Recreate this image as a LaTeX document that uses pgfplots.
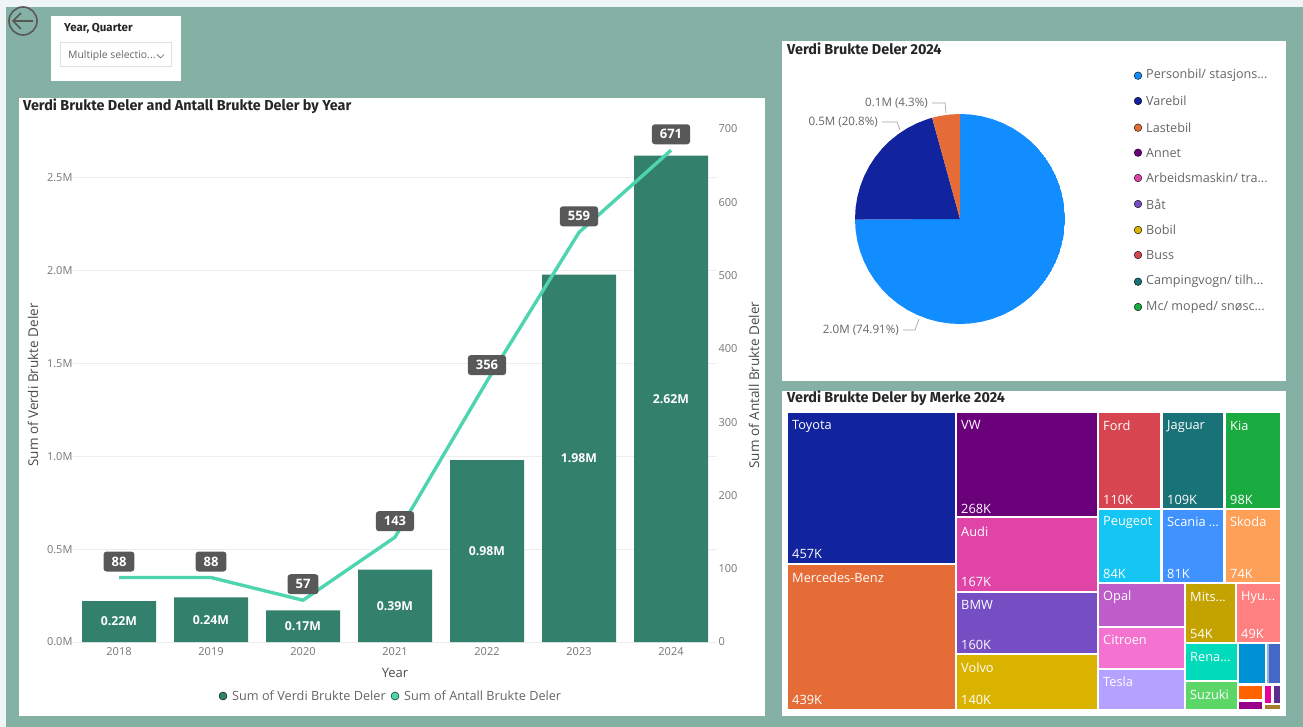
\documentclass[border=0pt]{standalone}
\usepackage{pgfplots}
\pgfplotsset{compat=1.18}
\usepackage{pgfplotstable}
\usepgfplotslibrary{polar}
\usepackage{fontspec}
\setmainfont{Open Sans}
\newfontfamily\titlefont{Fira Sans}
\definecolor{bgteal}{HTML}{85B1A5}
\definecolor{outer}{HTML}{EFF5F4}
\definecolor{bar}{HTML}{33806C}
\definecolor{linec}{HTML}{4FD4B0}
\definecolor{txt}{HTML}{666666}
\definecolor{tickc}{HTML}{777777}
\definecolor{lab}{HTML}{585858}
\definecolor{c1}{HTML}{118DFF}
\definecolor{c2}{HTML}{12239E}
\definecolor{c3}{HTML}{E66C37}
\definecolor{c4}{HTML}{6B007B}
\definecolor{c5}{HTML}{E044A7}
\definecolor{c6}{HTML}{744EC2}
\definecolor{c7}{HTML}{D9B300}
\definecolor{c8}{HTML}{D64550}
\definecolor{c9}{HTML}{197278}
\definecolor{c10}{HTML}{1AAB40}
\definecolor{c11}{HTML}{15C6F4}
\definecolor{c12}{HTML}{4092FF}
\definecolor{c13}{HTML}{FFA058}
\definecolor{c14}{HTML}{BE5DC9}
\definecolor{c15}{HTML}{F472D0}
\definecolor{c16}{HTML}{B5A1FF}
\definecolor{c17}{HTML}{C4A200}
\definecolor{c18}{HTML}{FF8080}
\definecolor{c19}{HTML}{00DBBC}
\definecolor{c20}{HTML}{5BD667}
\definecolor{c21}{HTML}{0091D5}
\definecolor{c22}{HTML}{4668C5}
\definecolor{c23}{HTML}{FF6300}
\definecolor{c24}{HTML}{E6009E}
\definecolor{c25}{HTML}{99008A}
\definecolor{c26}{HTML}{5C2D91}
\definecolor{c27}{HTML}{A67C2D}
\definecolor{c28}{HTML}{8FB4E0}
\pgfplotstableread{
x v half lab
0 0.22 0.11 0.22M
1 0.24 0.12 0.24M
2 0.17 0.085 0.17M
3 0.39 0.195 0.39M
4 0.98 0.49 0.98M
5 1.98 0.99 1.98M
6 2.62 1.31 2.62M
}\barsdata
\pgfplotstableread{
x n lab
0 88 88
1 88 88
2 57 57
3 143 143
4 356 356
5 559 559
6 671 671
}\linedata
\newcommand\tile[5]{\addplot[fill=#5,draw=none] coordinates {(#1,-#2)(#3,-#2)(#3,-#4)(#1,-#4)} --cycle;}
\newcommand\tl[3]{\node[anchor=west,text=white,font=\fontsize{12.8}{13}\selectfont,inner sep=0pt] at (axis cs:#1,-#2) {#3};}
\newcommand\lgd[3]{\addplot[only marks,mark=*,mark size=3.8pt,mark options={fill=#3,draw=none}] coordinates {(1138,-#1)};
\node[anchor=west,text=txt,font=\fontsize{12.6}{13}\selectfont,inner sep=0pt] at (axis cs:1146,-#1) {#2};}
\begin{document}
\begin{tikzpicture}[x=1pt,y=1pt]
% page and panels
\fill[outer] (0,0) rectangle (1303,-727);
\fill[bgteal] (6,-7) rectangle (1303,-727);
\fill[white] (51,-16) rectangle (181,-81);
\fill[white] (19,-98) rectangle (765,-716);
\fill[white] (782,-41) rectangle (1286,-381);
\fill[white] (782,-391) rectangle (1286,-716);
% back arrow
\draw[lab,line width=1.6pt] (23,-21) circle (14);
\draw[lab,line width=1.6pt] (33,-21) -- (13,-21) (21,-13) -- (13,-21) -- (21,-29);
% slicer
\node[anchor=west,inner sep=0pt,font=\titlefont\fontsize{11.5}{12}\selectfont\bfseries,text=black!85] at (64,-28) {Year, Quarter};
\draw[black!12,line width=.6pt] (60,-42) rectangle (171,-66);
\node[anchor=west,inner sep=0pt,font=\fontsize{10.4}{11}\selectfont,text=txt] at (68,-56) {Multiple selectio...};
\draw[txt,line width=.7pt] (157,-54.5) -- (160.5,-58) -- (164,-54.5);
% titles
\node[anchor=west,inner sep=0pt,font=\titlefont\fontsize{14.4}{15}\selectfont\bfseries,text=black!85] at (23,-106) {Verdi Brukte Deler and Antall Brukte Deler by Year};
\node[anchor=west,inner sep=0pt,font=\titlefont\fontsize{14.4}{15}\selectfont\bfseries,text=black!85] at (787,-49) {Verdi Brukte Deler 2024};
\node[anchor=west,inner sep=0pt,font=\titlefont\fontsize{14.4}{15}\selectfont\bfseries,text=black!85] at (787,-398) {Verdi Brukte Deler by Merke 2024};

% combo: bars on left axis
\begin{axis}[
  at={(73pt,-642pt)},anchor=south west,scale only axis,width=644pt,height=513pt,
  xmin=-0.5,xmax=6.5,ymin=0,ymax=2.764,
  axis x line*=bottom,axis y line*=left,
  axis line style={draw=none},
  major tick length=0pt,
  xtick={0,...,6},xticklabels={2018,2019,2020,2021,2022,2023,2024},
  ytick={0,0.5,1,1.5,2,2.5},yticklabels={0.0M,0.5M,1.0M,1.5M,2.0M,2.5M},
  ymajorgrids,grid style={black!7,line width=1pt},
  tick label style={font=\fontsize{11}{12}\selectfont,text=tickc},
  /pgf/number format/assume math mode=true,
  xticklabel style={yshift=-2pt},
  yticklabel style={xshift=3pt},
  clip=false,
]
\addplot[ybar,bar width=74pt,fill=bar,draw=none] table[x=x,y=v] {\barsdata};
\addplot[draw=none,mark=none,point meta=explicit symbolic,
  nodes near coords,
  every node near coord/.append style={anchor=center,text=white,inner sep=0pt,
    font=\fontsize{12.3}{13}\selectfont\bfseries}]
  table[x=x,y=half,meta=lab] {\barsdata};
\end{axis}
% line on right axis
\begin{axis}[
  at={(73pt,-642pt)},anchor=south west,scale only axis,width=644pt,height=513pt,
  xmin=-0.5,xmax=6.5,ymin=0,ymax=700,
  hide x axis,axis y line*=right,
  axis line style={draw=none},
  major tick length=0pt,
  ytick={0,100,...,700},
  tick label style={font=\fontsize{11}{12}\selectfont,text=tickc},
  /pgf/number format/assume math mode=true,
  yticklabel style={xshift=-2pt},
  clip=false,
]
\addplot[linec,line width=3.4pt,line join=round,mark=none,point meta=explicit symbolic,
  nodes near coords,
  every node near coord/.append style={anchor=center,yshift=16pt,fill=lab,text=white,
    rounded corners=3pt,inner xsep=8pt,inner ysep=0pt,minimum height=20pt,
    font=\fontsize{13}{14}\selectfont\bfseries}]
  table[x=x,y=n,meta=lab] {\linedata};
\end{axis}
\node[rotate=90,text=black!70,inner sep=0pt,font=\fontsize{13.5}{14}\selectfont] at (33,-385) {Sum of Verdi Brukte Deler};
\node[rotate=90,text=black!70,inner sep=0pt,font=\fontsize{13.5}{14}\selectfont] at (754,-385) {Sum of Antall Brukte Deler};
\node[text=black!70,inner sep=0pt,font=\fontsize{13}{14}\selectfont] at (395,-673) {Year};

% pie
\begin{polaraxis}[at={(960pt,-219pt)},anchor=center,scale only axis,width=210pt,height=210pt,
  ymin=0,ymax=1,xmin=0,xmax=360,hide axis]
\addplot[fill=c1,draw=none] coordinates {(0,0)(90,1)(84,1)(78,1)(72,1)(66,1)(60,1)(54,1)(48,1)(42,1)(36,1)(30,1)(24,1)(18,1)(12,1)(6,1)(0,1)(-6,1)(-12,1)(-18,1)(-24,1)(-30,1)(-36,1)(-42,1)(-48,1)(-54,1)(-60,1)(-66,1)(-72,1)(-78,1)(-84,1)(-90,1)(-96,1)(-102,1)(-108,1)(-114,1)(-120,1)(-126,1)(-132,1)(-138,1)(-144,1)(-150,1)(-156,1)(-162,1)(-168,1)(-174,1)(-179.7,1)} --cycle;
\addplot[fill=c2,draw=none] coordinates {(0,0)(180.3,1)(174,1)(168,1)(162,1)(156,1)(150,1)(144,1)(138,1)(132,1)(126,1)(120,1)(114,1)(108,1)(105.4,1)} --cycle;
\addplot[fill=c3,draw=none] coordinates {(0,0)(105.4,1)(102,1)(96,1)(90,1)} --cycle;
\end{polaraxis}

% treemap, pie leaders and legend, chart legend on a pixel-scaled axis
\begin{axis}[at={(0pt,-727pt)},anchor=south west,scale only axis,width=1303pt,height=727pt,
  xmin=0,xmax=1303,ymin=-727,ymax=0,hide axis,clip=false]
\tile{788}{413}{955.3}{563.3}{c2}
\tile{788}{565}{955.3}{709}{c3}
\tile{957}{413}{1097.3}{515.7}{c4}
\tile{957}{517.7}{1097.3}{591}{c5}
\tile{957}{592.7}{1097.3}{653.3}{c6}
\tile{957}{655.3}{1097.3}{709}{c7}
\tile{1099.3}{413}{1160.3}{508.3}{c8}
\tile{1162.5}{413}{1223.3}{508.3}{c9}
\tile{1225.5}{413}{1280}{508.3}{c10}
\tile{1099.3}{510.3}{1160.3}{581.7}{c11}
\tile{1162.5}{510.3}{1223.3}{581.7}{c12}
\tile{1225.5}{510.3}{1280}{581.7}{c13}
\tile{1099.3}{584.3}{1184}{625.7}{c14}
\tile{1099.3}{627.7}{1184}{668.3}{c15}
\tile{1099.3}{670.3}{1184}{709}{c16}
\tile{1185.7}{584.3}{1235}{642.3}{c17}
\tile{1237.3}{584.3}{1280}{642.3}{c18}
\tile{1185.7}{644.3}{1237.3}{679.7}{c19}
\tile{1185.7}{682.3}{1237.3}{709}{c20}
\tile{1239.3}{644.3}{1265.3}{683.3}{c21}
\tile{1266.5}{644.3}{1268.5}{683.3}{c28}
\tile{1269.3}{644.3}{1280}{683.3}{c22}
\tile{1239.3}{686}{1262}{699.3}{c23}
\tile{1239.3}{702.3}{1262}{709}{c25}
\tile{1264.7}{686}{1271.3}{703.3}{c24}
\tile{1274}{686}{1280}{703.3}{c26}
\tile{1264.7}{705}{1280}{709}{c27}
\tl{792}{426}{Toyota}\tl{792}{554}{457K}
\tl{792}{578}{Mercedes-Benz}\tl{792}{700}{439K}
\tl{961}{425}{VW}\tl{961}{509}{268K}
\tl{961}{532}{Audi}\tl{961}{582}{167K}
\tl{961}{605}{BMW}\tl{961}{645}{160K}
\tl{961}{668}{Volvo}\tl{961}{700}{140K}
\tl{1103}{426}{Ford}\tl{1103}{500}{110K}
\tl{1167}{426}{Jaguar}\tl{1167}{500}{109K}
\tl{1230}{426}{Kia}\tl{1230}{500}{98K}
\tl{1103}{522}{Peugeot}\tl{1103}{574}{84K}
\tl{1167}{522}{Scania \dots}\tl{1167}{574}{81K}
\tl{1230}{522}{Skoda}\tl{1230}{574}{74K}
\tl{1103}{597}{Opal}
\tl{1103}{640}{Citroen}
\tl{1103}{682}{Tesla}
\tl{1190}{597}{Mits...}\tl{1190}{634}{54K}
\tl{1241}{597}{Hyu...}\tl{1241}{634}{49K}
\tl{1190}{657}{Rena...}
\tl{1190}{695}{Suzuki}
% pie leaders
\addplot[black!35,line width=.7pt] coordinates {(932,-103)(945,-103)(946,-113)};
\addplot[black!35,line width=.7pt] coordinates {(882,-122)(897,-122)(900,-130)};
\addplot[black!35,line width=.7pt] coordinates {(903,-330)(915,-330)(919,-319)};
\node[anchor=east,text=txt,inner sep=0pt,font=\fontsize{11.6}{12}\selectfont] at (axis cs:928,-103) {0.1M (4.3\%)};
\node[anchor=east,text=txt,inner sep=0pt,font=\fontsize{11.6}{12}\selectfont] at (axis cs:878,-122) {0.5M (20.8\%)};
\node[anchor=east,text=txt,inner sep=0pt,font=\fontsize{11.6}{12}\selectfont] at (axis cs:899,-330) {2.0M (74.91\%)};
% pie legend
\lgd{75.7}{Personbil/ stasjons...}{c1}
\lgd{101}{Varebil}{c2}
\lgd{127.7}{Lastebil}{c3}
\lgd{152.7}{Annet}{c4}
\lgd{178}{Arbeidsmaskin/ tra...}{c5}
\lgd{204}{Båt}{c6}
\lgd{230}{Bobil}{c7}
\lgd{255}{Buss}{c8}
\lgd{281.7}{Campingvogn/ tilh...}{c9}
\lgd{307}{Mc/ moped/ snøsc...}{c10}
% chart legend
\addplot[only marks,mark=*,mark size=4pt,mark options={fill=bar,draw=none}] coordinates {(223,-696)};
\addplot[only marks,mark=*,mark size=4pt,mark options={fill=linec,draw=none}] coordinates {(395,-696)};
\node[anchor=west,text=txt,inner sep=0pt,font=\fontsize{12.7}{13}\selectfont] at (axis cs:232,-696) {Sum of Verdi Brukte Deler};
\node[anchor=west,text=txt,inner sep=0pt,font=\fontsize{12.7}{13}\selectfont] at (axis cs:404,-696) {Sum of Antall Brukte Deler};
\end{axis}
\end{tikzpicture}
\end{document}
